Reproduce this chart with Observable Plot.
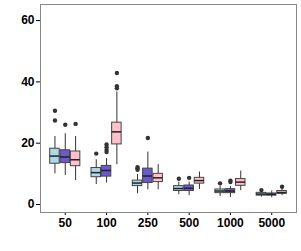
<!DOCTYPE html>
<html><head><meta charset="utf-8">
<script src="https://cdn.jsdelivr.net/npm/d3@7"></script>
<script src="https://cdn.jsdelivr.net/npm/@observablehq/plot@0.6"></script>
<style>body{margin:0;background:#fff}</style>
</head><body><div id="chart"></div>
<script>
const sizes = ["50","100","250","500","1000","5000"];
const series = ["lightblue","slateblue","pink"];
const colors = ["#a6d8e4","#6a55d4","#ffc0c8"];

// per series: values for each sample size
const lowA = [10.0, 6.5, 3.5, 3.2, 2.6, 2.4];
const q1A  = [13.3, 8.9, 6.0, 4.4, 3.7, 2.9];
const medA = [15.8, 10.4, 7.0, 5.2, 4.4, 3.4];
const q3A  = [18.2, 11.9, 7.8, 6.0, 4.9, 3.8];
const highA= [22.2, 14.6, 9.8, 7.3, 6.0, 4.2];
const outA = [[30.6, 27.4], [16.6], [12.2, 11.8, 11.3], [8.4], [6.9], [4.7]];

const lowB = [9.5, 7.0, 4.8, 2.9, 2.3, 2.2];
const q1B  = [13.5, 9.1, 7.0, 4.4, 3.7, 2.9];
const medB = [15.5, 11.1, 9.3, 5.3, 4.4, 3.3];
const q3B  = [17.7, 12.6, 11.7, 6.2, 5.0, 3.6];
const highB= [23.1, 15.0, 17.1, 7.3, 5.9, 4.4];
const outB = [[26.0], [19.6, 18.7, 17.8, 17.1], [21.7], [8.7], [7.8, 7.3], []];

const lowC = [7.8, 13.0, 4.8, 4.9, 4.5, 2.9];
const q1C  = [12.5, 19.6, 7.3, 6.8, 6.1, 3.5];
const medC = [14.6, 23.7, 8.7, 7.8, 7.3, 3.9];
const q3C  = [17.3, 26.7, 10.0, 8.7, 8.3, 4.4];
const highC= [22.2, 36.7, 13.0, 10.6, 10.9, 5.3];
const outC = [[26.3], [42.9, 38.6, 37.9], [], [], [], [5.8]];

const stats = [
  {low: lowA, q1: q1A, med: medA, q3: q3A, high: highA, out: outA},
  {low: lowB, q1: q1B, med: medB, q3: q3B, high: highB, out: outB},
  {low: lowC, q1: q1C, med: medC, q3: q3C, high: highC, out: outC}
];

const boxes = [];
const outliers = [];
stats.forEach((s, j) => {
  sizes.forEach((sz, i) => {
    const x = i + (j - 1) * 0.25;
    boxes.push({series: series[j], x, x1: x - 0.115, x2: x + 0.115,
      low: s.low[i], q1: s.q1[i], med: s.med[i], q3: s.q3[i], high: s.high[i]});
    s.out[i].forEach(v => outliers.push({series: series[j], x, y: v}));
  });
});

const chart = Plot.plot({
  width: 301,
  height: 251,
  marginLeft: 40,
  marginRight: 5,
  marginTop: 4,
  marginBottom: 39,
  style: {fontFamily: "'Liberation Sans', Arial, sans-serif", fontSize: "12px", fontWeight: "bold", color: "#000", background: "#fff"},
  x: {domain: [-0.6, 5.6], ticks: [0,1,2,3,4,5], tickFormat: i => sizes[i], tickSize: 3, tickPadding: 3, label: null},
  y: {domain: [-2.61, 65.25], ticks: [0,20,40,60], tickSize: 4, tickPadding: 2, label: null},
  color: {domain: series, range: colors},
  marks: [
    Plot.ruleX(boxes, {x: "x", y1: "low", y2: "high", stroke: "#333", strokeWidth: 1}),
    Plot.rectY(boxes, {x1: "x1", x2: "x2", y1: "q1", y2: "q3", fill: "series", stroke: "#444", strokeWidth: 1}),
    Plot.ruleY(boxes, {x1: "x1", x2: "x2", y: "med", stroke: "#222", strokeWidth: 1.5}),
    Plot.dot(outliers, {x: "x", y: "y", r: 2.2, fill: "#333", stroke: "none"}),
    Plot.frame({stroke: "#888", strokeWidth: 1})
  ]
});
document.getElementById("chart").appendChild(chart);
</script>
</body></html>
